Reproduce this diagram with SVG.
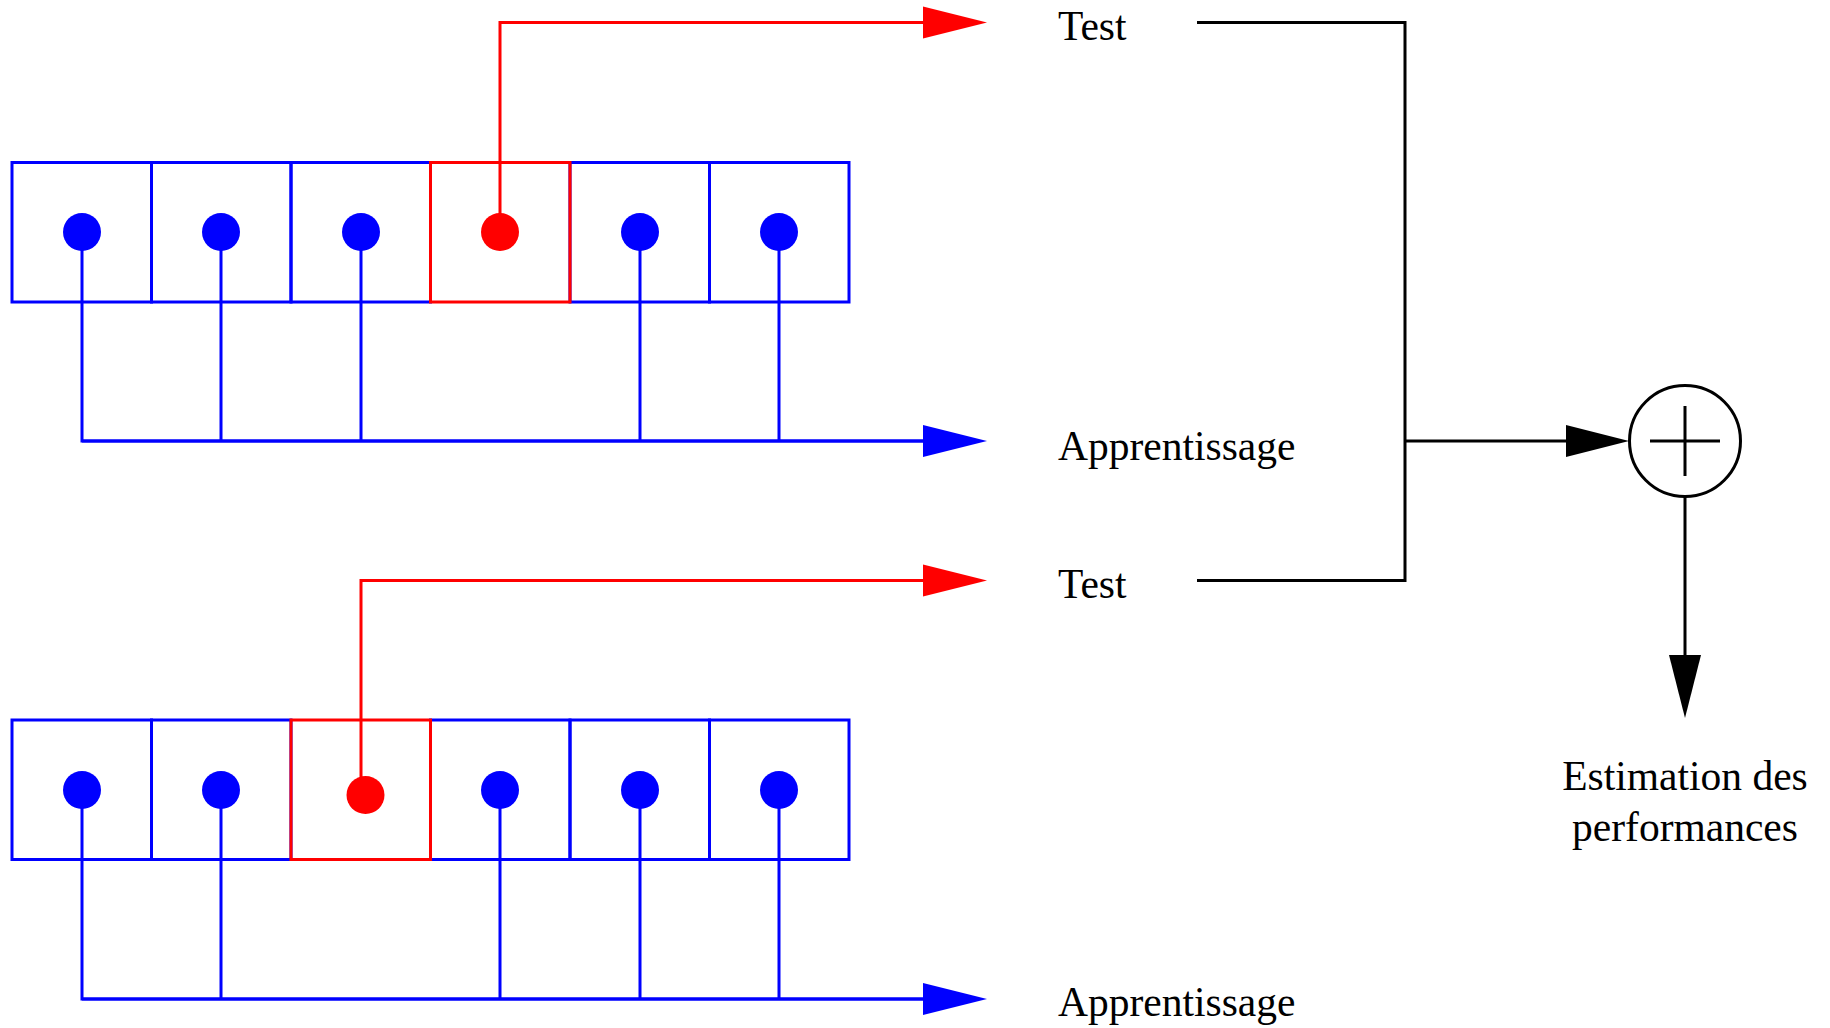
<svg xmlns="http://www.w3.org/2000/svg" width="1830" height="1028" viewBox="0 0 1830 1028">
  <style>
    .cell { fill: none; stroke: #0000ff; stroke-width: 3; }
    .cellSel { fill: none; stroke: #ff0000; stroke-width: 3; }
    .dot { fill: #0000ff; }
    .dotSel { fill: #ff0000; }
    .wire { fill: none; stroke: #0000ff; stroke-width: 3; }
    .wireRed { fill: none; stroke: #ff0000; stroke-width: 3; }
    .wireBlack { fill: none; stroke: #000000; stroke-width: 3; }
    .lbl { font-family: "Liberation Serif", "Times New Roman", serif; font-size: 41.5px; fill: #000000; }
  </style>
  <defs>
    <marker id="arrBlue" markerUnits="userSpaceOnUse" markerWidth="64" markerHeight="32" refX="1" refY="16" orient="auto" overflow="visible">
      <path d="M0,0 L64,16 L0,32 z" fill="#0000ff"/>
    </marker>
    <marker id="arrRed" markerUnits="userSpaceOnUse" markerWidth="64" markerHeight="32" refX="1" refY="16" orient="auto" overflow="visible">
      <path d="M0,0 L64,16 L0,32 z" fill="#ff0000"/>
    </marker>
    <marker id="arrBlack" markerUnits="userSpaceOnUse" markerWidth="64" markerHeight="32" refX="1" refY="16" orient="auto" overflow="visible">
      <path d="M0,0 L63,16 L0,32 z" fill="#000000"/>
    </marker>
  </defs>

  <!-- connectors -->
  <g id="connectors">
    <!-- fold 1: training bus -->
    <path class="wire" d="M82,232 V441 H924 M221,232 V441 M361,232 V441 M640,232 V441 M779,232 V441"/>
    <path class="wire" d="M82,441 H924" marker-end="url(#arrBlue)"/>
    <!-- fold 1: test output -->
    <path class="wireRed" d="M500,232 V22.5 H924" marker-end="url(#arrRed)"/>

    <!-- fold 2: training bus -->
    <path class="wire" d="M82,790 V999 H924 M221,790 V999 M500,790 V999 M640,790 V999 M779,790 V999"/>
    <path class="wire" d="M82,999 H924" marker-end="url(#arrBlue)"/>
    <!-- fold 2: test output -->
    <path class="wireRed" d="M361,795 V580.5 H924" marker-end="url(#arrRed)"/>

    <!-- combine test results -->
    <path class="wireBlack" d="M1197,22.5 H1405 V580.5 H1197"/>
    <path class="wireBlack" d="M1405,441 H1567" marker-end="url(#arrBlack)"/>
    <path class="wireBlack" d="M1685,497 V656" marker-end="url(#arrBlack)"/>
  </g>

  <!-- fold 1 -->
  <g id="fold1">
    <rect class="cell" x="12" y="162.5" width="139.5" height="139.5"/>
    <rect class="cell" x="151.5" y="162.5" width="139.5" height="139.5"/>
    <rect class="cell" x="291" y="162.5" width="139.5" height="139.5"/>
    <rect class="cell" x="570" y="162.5" width="139.5" height="139.5"/>
    <rect class="cell" x="709.5" y="162.5" width="139.5" height="139.5"/>
    <rect class="cellSel" x="430.5" y="162.5" width="139.5" height="139.5"/>
    <circle class="dot" cx="82" cy="232" r="19"/>
    <circle class="dot" cx="221" cy="232" r="19"/>
    <circle class="dot" cx="361" cy="232" r="19"/>
    <circle class="dotSel" cx="500" cy="232" r="19"/>
    <circle class="dot" cx="640" cy="232" r="19"/>
    <circle class="dot" cx="779" cy="232" r="19"/>
  </g>

  <!-- fold 2 -->
  <g id="fold2">
    <rect class="cell" x="12" y="720" width="139.5" height="139.5"/>
    <rect class="cell" x="151.5" y="720" width="139.5" height="139.5"/>
    <rect class="cell" x="430.5" y="720" width="139.5" height="139.5"/>
    <rect class="cell" x="570" y="720" width="139.5" height="139.5"/>
    <rect class="cell" x="709.5" y="720" width="139.5" height="139.5"/>
    <rect class="cellSel" x="291" y="720" width="139.5" height="139.5"/>
    <circle class="dot" cx="82" cy="790" r="19"/>
    <circle class="dot" cx="221" cy="790" r="19"/>
    <circle class="dotSel" cx="365.5" cy="795" r="19"/>
    <circle class="dot" cx="500" cy="790" r="19"/>
    <circle class="dot" cx="640" cy="790" r="19"/>
    <circle class="dot" cx="779" cy="790" r="19"/>
  </g>

  <!-- labels -->
  <g id="label-test1"><text class="lbl" x="1058" y="39.5">Test</text></g>
  <g id="label-train1"><text class="lbl" x="1058" y="459.5">Apprentissage</text></g>
  <g id="label-test2"><text class="lbl" x="1058" y="597.5">Test</text></g>
  <g id="label-train2"><text class="lbl" x="1058" y="1016">Apprentissage</text></g>

  <!-- summing junction -->
  <g id="sum">
    <circle cx="1685" cy="441" r="55.5" fill="none" stroke="#000000" stroke-width="3"/>
    <path d="M1650,441 H1720 M1685,406 V476" stroke="#000000" stroke-width="3" fill="none"/>
  </g>

  <g id="label-result">
    <text class="lbl" x="1685" y="790" text-anchor="middle">Estimation des</text>
    <text class="lbl" x="1685" y="841" text-anchor="middle">performances</text>
  </g>
</svg>
